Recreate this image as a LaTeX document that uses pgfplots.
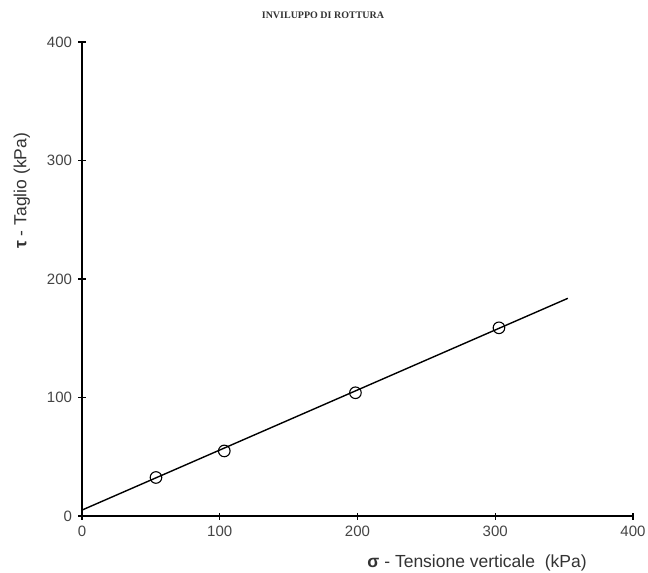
\documentclass[border=0pt]{standalone}
\usepackage{fontspec}
\setmainfont{Liberation Sans}
\newfontfamily\titlefont{Liberation Serif}
\usepackage{pgfplots}
\pgfplotsset{compat=1.18}
\definecolor{ticktxt}{HTML}{444444}
\definecolor{labtxt}{HTML}{333333}
\begin{document}
\begin{tikzpicture}[x=1pt,y=1pt]
\useasboundingbox (0,0) rectangle (648,573);
\node[font=\titlefont\bfseries\fontsize{10}{12}\selectfont, anchor=base, text=labtxt] at (323,554) {INVILUPPO DI ROTTURA};
\begin{axis}[
  at={(82pt,57pt)}, anchor=south west,
  scale only axis, width=551pt, height=474pt,
  xmin=0, xmax=400, ymin=0, ymax=400,
  axis lines=left,
  axis line style={-, line width=1.5pt, black},
  xtick={0,100,200,300,400}, ytick={0,100,200,300,400},
  tick style={black, line width=1.2pt},
  major tick length=7pt, tick align=center,
  tick label style={font=\fontsize{15}{17}\selectfont, text=ticktxt},
  /pgf/number format/assume math mode=true,
  xticklabel shift=3pt, yticklabel shift=3pt,
  xlabel={\textbf{σ} - Tensione verticale\ \ (kPa)},
  ylabel={\textbf{τ} - Taglio (kPa)},
  label style={font=\fontsize{17.5}{20}\selectfont, text=labtxt},
  xlabel style={at={(axis description cs:0.717,-0.0992)}, anchor=center},
  ylabel style={at={(axis description cs:-0.109,0.686)}, anchor=center},
  clip=false,
]
\addplot[black, line width=1.4pt] coordinates {(0,5) (352.7,183.7)};
\addplot[only marks, mark=o, mark size=5.8pt, mark options={black, line width=1.1pt, fill=none}]
  coordinates {(53.7,32.5) (103.3,54.9) (198.5,104) (302.7,158.8)};
\end{axis}
\end{tikzpicture}
\end{document}
